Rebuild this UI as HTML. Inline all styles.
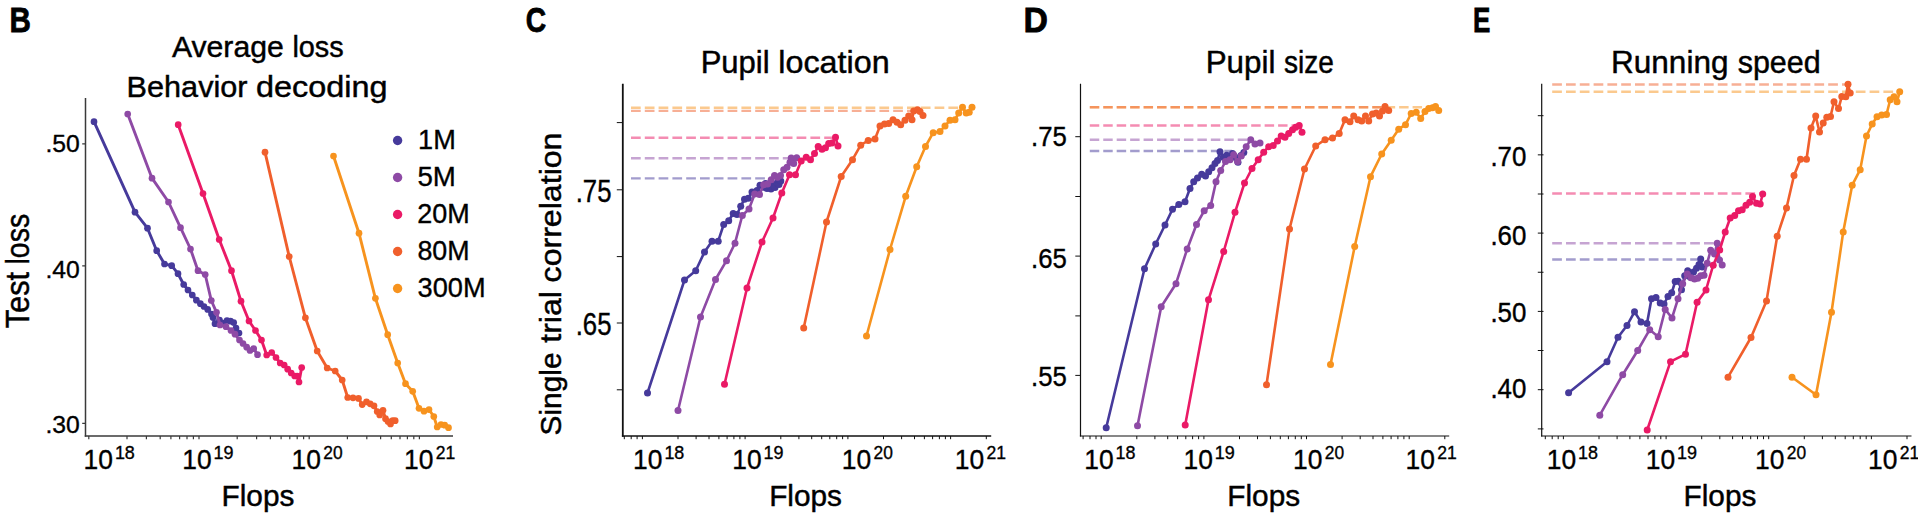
<!DOCTYPE html>
<html><head><meta charset="utf-8"><title>Figure</title>
<style>html,body{margin:0;padding:0;background:#fff}svg{display:block}</style></head><body>
<svg width="1918" height="515" viewBox="0 0 1918 515">
<rect width="1918" height="515" fill="#fff"/>
<text x="9.43" y="32" font-size="35.9" font-family="'Liberation Sans', sans-serif" font-weight="bold" fill="#000" stroke="#000" stroke-width="0.8" textLength="21.37" lengthAdjust="spacingAndGlyphs">B</text>
<text x="525.82" y="32" font-size="35.9" font-family="'Liberation Sans', sans-serif" font-weight="bold" fill="#000" stroke="#000" stroke-width="0.8" textLength="20.40" lengthAdjust="spacingAndGlyphs">C</text>
<text x="1023.45" y="32" font-size="35.9" font-family="'Liberation Sans', sans-serif" font-weight="bold" fill="#000" stroke="#000" stroke-width="0.8" textLength="24.46" lengthAdjust="spacingAndGlyphs">D</text>
<text x="1473.06" y="32" font-size="35.9" font-family="'Liberation Sans', sans-serif" font-weight="bold" fill="#000" stroke="#000" stroke-width="0.8" textLength="17.35" lengthAdjust="spacingAndGlyphs">E</text>
<text x="171.88" y="57.1" font-size="30.4" font-family="'Liberation Sans', sans-serif" fill="#000" stroke="#000" stroke-width="0.45" textLength="111.89" lengthAdjust="spacingAndGlyphs">Average</text>
<text x="292.40" y="57.1" font-size="30.4" font-family="'Liberation Sans', sans-serif" fill="#000" stroke="#000" stroke-width="0.45" textLength="51.34" lengthAdjust="spacingAndGlyphs">loss</text>
<text x="126.62" y="96.9" font-size="30.4" font-family="'Liberation Sans', sans-serif" fill="#000" stroke="#000" stroke-width="0.45" textLength="120.90" lengthAdjust="spacingAndGlyphs">Behavior</text>
<text x="255.98" y="96.9" font-size="30.4" font-family="'Liberation Sans', sans-serif" fill="#000" stroke="#000" stroke-width="0.45" textLength="131.43" lengthAdjust="spacingAndGlyphs">decoding</text>
<text x="700.69" y="72.95" font-size="31" font-family="'Liberation Sans', sans-serif" fill="#000" stroke="#000" stroke-width="0.45" textLength="68.96" lengthAdjust="spacingAndGlyphs">Pupil</text>
<text x="778.38" y="72.95" font-size="31" font-family="'Liberation Sans', sans-serif" fill="#000" stroke="#000" stroke-width="0.45" textLength="111.22" lengthAdjust="spacingAndGlyphs">location</text>
<text x="1205.67" y="72.95" font-size="31" font-family="'Liberation Sans', sans-serif" fill="#000" stroke="#000" stroke-width="0.45" textLength="69.71" lengthAdjust="spacingAndGlyphs">Pupil</text>
<text x="1283.97" y="72.95" font-size="31" font-family="'Liberation Sans', sans-serif" fill="#000" stroke="#000" stroke-width="0.45" textLength="49.91" lengthAdjust="spacingAndGlyphs">size</text>
<text x="1611.05" y="72.8" font-size="31" font-family="'Liberation Sans', sans-serif" fill="#000" stroke="#000" stroke-width="0.45" textLength="117.40" lengthAdjust="spacingAndGlyphs">Running</text>
<text x="1737.71" y="72.8" font-size="31" font-family="'Liberation Sans', sans-serif" fill="#000" stroke="#000" stroke-width="0.45" textLength="82.97" lengthAdjust="spacingAndGlyphs">speed</text>
<text x="221.49" y="505.6" font-size="30.4" font-family="'Liberation Sans', sans-serif" fill="#000" stroke="#000" stroke-width="0.45" textLength="72.88" lengthAdjust="spacingAndGlyphs">Flops</text>
<text x="769.14" y="505.6" font-size="30.4" font-family="'Liberation Sans', sans-serif" fill="#000" stroke="#000" stroke-width="0.45" textLength="72.88" lengthAdjust="spacingAndGlyphs">Flops</text>
<text x="1227.24" y="505.6" font-size="30.4" font-family="'Liberation Sans', sans-serif" fill="#000" stroke="#000" stroke-width="0.45" textLength="72.88" lengthAdjust="spacingAndGlyphs">Flops</text>
<text x="1683.49" y="505.6" font-size="30.4" font-family="'Liberation Sans', sans-serif" fill="#000" stroke="#000" stroke-width="0.45" textLength="72.88" lengthAdjust="spacingAndGlyphs">Flops</text>
<text x="28.9" y="328.24" font-size="32.8" font-family="'Liberation Sans', sans-serif" fill="#000" stroke="#000" stroke-width="0.45" textLength="56.25" lengthAdjust="spacingAndGlyphs" transform="rotate(-90 28.9 328.24)">Test</text>
<text x="28.9" y="264.48" font-size="32.8" font-family="'Liberation Sans', sans-serif" fill="#000" stroke="#000" stroke-width="0.45" textLength="50.70" lengthAdjust="spacingAndGlyphs" transform="rotate(-90 28.9 264.48)">loss</text>
<text x="561.2" y="435.47" font-size="29.8" font-family="'Liberation Sans', sans-serif" fill="#000" stroke="#000" stroke-width="0.45" textLength="83.02" lengthAdjust="spacingAndGlyphs" transform="rotate(-90 561.2 435.47)">Single</text>
<text x="561.2" y="342.70" font-size="29.8" font-family="'Liberation Sans', sans-serif" fill="#000" stroke="#000" stroke-width="0.45" textLength="51.52" lengthAdjust="spacingAndGlyphs" transform="rotate(-90 561.2 342.70)">trial</text>
<text x="561.2" y="282.41" font-size="29.8" font-family="'Liberation Sans', sans-serif" fill="#000" stroke="#000" stroke-width="0.45" textLength="149.90" lengthAdjust="spacingAndGlyphs" transform="rotate(-90 561.2 282.41)">correlation</text>
<path d="M85.5 98V436.75" fill="none" stroke="#3a3a3a" stroke-width="1.5"/>
<path d="M84.75 436H453" fill="none" stroke="#3a3a3a" stroke-width="1.5"/>
<path d="M88.8 436v3.2M127.0 436v3.2M146.4 436v3.2M160.2 436v3.2M170.9 436v3.2M179.6 436v3.2M187.0 436v3.2M193.4 436v3.2M199.0 436v3.2M237.2 436v3.2M256.6 436v3.2M270.4 436v3.2M281.1 436v3.2M289.8 436v3.2M297.2 436v3.2M303.6 436v3.2M309.2 436v3.2M347.4 436v3.2M366.8 436v3.2M380.6 436v3.2M391.3 436v3.2M400.0 436v3.2M407.4 436v3.2M413.8 436v3.2M419.4 436v3.2M85.5 143.9h-3.3M85.5 265.9h-3.3M85.5 423.3h-3.3" fill="none" stroke="#3a3a3a" stroke-width="1.2"/>
<text x="45.40" y="152.1" font-size="24.6" font-family="'Liberation Sans', sans-serif" fill="#000" stroke="#000" stroke-width="0.35" textLength="34.37" lengthAdjust="spacingAndGlyphs">.50</text>
<text x="45.40" y="277.6" font-size="24.6" font-family="'Liberation Sans', sans-serif" fill="#000" stroke="#000" stroke-width="0.35" textLength="34.37" lengthAdjust="spacingAndGlyphs">.40</text>
<text x="45.40" y="432.7" font-size="24.6" font-family="'Liberation Sans', sans-serif" fill="#000" stroke="#000" stroke-width="0.35" textLength="34.37" lengthAdjust="spacingAndGlyphs">.30</text>
<text x="83.54" y="468.9" font-size="26.8" font-family="'Liberation Sans', sans-serif" fill="#000" stroke="#000" stroke-width="0.35" textLength="29.39" lengthAdjust="spacingAndGlyphs">10</text>
<text x="114.88" y="458.7" font-size="18.6" font-family="'Liberation Sans', sans-serif" fill="#000" stroke="#000" stroke-width="0.35" textLength="19.93" lengthAdjust="spacingAndGlyphs">18</text>
<text x="182.24" y="468.9" font-size="26.8" font-family="'Liberation Sans', sans-serif" fill="#000" stroke="#000" stroke-width="0.35" textLength="29.39" lengthAdjust="spacingAndGlyphs">10</text>
<text x="213.57" y="458.7" font-size="18.6" font-family="'Liberation Sans', sans-serif" fill="#000" stroke="#000" stroke-width="0.35" textLength="20.03" lengthAdjust="spacingAndGlyphs">19</text>
<text x="291.54" y="468.9" font-size="26.8" font-family="'Liberation Sans', sans-serif" fill="#000" stroke="#000" stroke-width="0.35" textLength="29.39" lengthAdjust="spacingAndGlyphs">10</text>
<text x="323.36" y="458.7" font-size="18.6" font-family="'Liberation Sans', sans-serif" fill="#000" stroke="#000" stroke-width="0.35" textLength="19.35" lengthAdjust="spacingAndGlyphs">20</text>
<text x="404.04" y="468.9" font-size="26.8" font-family="'Liberation Sans', sans-serif" fill="#000" stroke="#000" stroke-width="0.35" textLength="29.39" lengthAdjust="spacingAndGlyphs">10</text>
<text x="435.85" y="458.7" font-size="18.6" font-family="'Liberation Sans', sans-serif" fill="#000" stroke="#000" stroke-width="0.35" textLength="19.54" lengthAdjust="spacingAndGlyphs">21</text>
<polyline fill="none" stroke="#463A9B" stroke-width="2.9" stroke-linejoin="round" points="94,121.7 135,212.2 147.5,228.2 156.7,250.7 164.5,264 171.7,265.7 178,273.7 183.7,284.5 188,290 192.3,295 196.4,300.2 200.4,303.7 204,306.5 207.7,309.4 211.5,314 213,317.5 215,323.7 219.5,320 223,323 227,320.5 230.5,321.2 233.7,322.5 236,328 239,333"/>
<g fill="#463A9B"><circle cx="94" cy="121.7" r="3.35"/><circle cx="135" cy="212.2" r="3.35"/><circle cx="147.5" cy="228.2" r="3.35"/><circle cx="156.7" cy="250.7" r="3.35"/><circle cx="164.5" cy="264" r="3.35"/><circle cx="171.7" cy="265.7" r="3.35"/><circle cx="178" cy="273.7" r="3.35"/><circle cx="183.7" cy="284.5" r="3.35"/><circle cx="188" cy="290" r="3.35"/><circle cx="192.3" cy="295" r="3.35"/><circle cx="196.4" cy="300.2" r="3.35"/><circle cx="200.4" cy="303.7" r="3.35"/><circle cx="204" cy="306.5" r="3.35"/><circle cx="207.7" cy="309.4" r="3.35"/><circle cx="211.5" cy="314" r="3.35"/><circle cx="213" cy="317.5" r="3.35"/><circle cx="215" cy="323.7" r="3.35"/><circle cx="219.5" cy="320" r="3.35"/><circle cx="223" cy="323" r="3.35"/><circle cx="227" cy="320.5" r="3.35"/><circle cx="230.5" cy="321.2" r="3.35"/><circle cx="233.7" cy="322.5" r="3.35"/><circle cx="236" cy="328" r="3.35"/><circle cx="239" cy="333" r="3.35"/></g>
<polyline fill="none" stroke="#8E4AA5" stroke-width="2.9" stroke-linejoin="round" points="127.7,114 152,178.2 168.5,202 180.5,227.7 190.5,249 198,270.7 205.2,274.5 211.3,300.5 216.5,312.3 220,325 226,326.7 231,330.5 235,334.2 239.5,340 243,343.5 246.7,347.2 250,350.5 253.7,348.7 257.5,354.7"/>
<g fill="#8E4AA5"><circle cx="127.7" cy="114" r="3.35"/><circle cx="152" cy="178.2" r="3.35"/><circle cx="168.5" cy="202" r="3.35"/><circle cx="180.5" cy="227.7" r="3.35"/><circle cx="190.5" cy="249" r="3.35"/><circle cx="198" cy="270.7" r="3.35"/><circle cx="205.2" cy="274.5" r="3.35"/><circle cx="211.3" cy="300.5" r="3.35"/><circle cx="216.5" cy="312.3" r="3.35"/><circle cx="220" cy="325" r="3.35"/><circle cx="226" cy="326.7" r="3.35"/><circle cx="231" cy="330.5" r="3.35"/><circle cx="235" cy="334.2" r="3.35"/><circle cx="239.5" cy="340" r="3.35"/><circle cx="243" cy="343.5" r="3.35"/><circle cx="246.7" cy="347.2" r="3.35"/><circle cx="250" cy="350.5" r="3.35"/><circle cx="253.7" cy="348.7" r="3.35"/><circle cx="257.5" cy="354.7" r="3.35"/></g>
<polyline fill="none" stroke="#EA1A66" stroke-width="2.9" stroke-linejoin="round" points="178.2,124.7 203,193.5 219.2,239.5 231.5,270.7 241,301.2 249,321 255.5,330.5 261.5,340 266.7,355 271.7,352.5 276,357.5 280.2,363 284.2,365 287.7,369.2 291.2,373 294.7,376 297.2,376 299,382 301.7,367.5"/>
<g fill="#EA1A66"><circle cx="178.2" cy="124.7" r="3.35"/><circle cx="203" cy="193.5" r="3.35"/><circle cx="219.2" cy="239.5" r="3.35"/><circle cx="231.5" cy="270.7" r="3.35"/><circle cx="241" cy="301.2" r="3.35"/><circle cx="249" cy="321" r="3.35"/><circle cx="255.5" cy="330.5" r="3.35"/><circle cx="261.5" cy="340" r="3.35"/><circle cx="266.7" cy="355" r="3.35"/><circle cx="271.7" cy="352.5" r="3.35"/><circle cx="276" cy="357.5" r="3.35"/><circle cx="280.2" cy="363" r="3.35"/><circle cx="284.2" cy="365" r="3.35"/><circle cx="287.7" cy="369.2" r="3.35"/><circle cx="291.2" cy="373" r="3.35"/><circle cx="294.7" cy="376" r="3.35"/><circle cx="297.2" cy="376" r="3.35"/><circle cx="299" cy="382" r="3.35"/><circle cx="301.7" cy="367.5" r="3.35"/></g>
<polyline fill="none" stroke="#F05F2C" stroke-width="2.9" stroke-linejoin="round" points="265,152.2 289.2,256.5 305.4,317.8 317.2,351 327.2,368 335.2,371 342.2,380 347.7,397.5 353,397.8 358.5,398.4 362.2,404.6 366.5,401.8 370.2,403.8 374,405.8 377.2,411.5 379.7,415 383,410.3 385.5,418.7 388,421.5 390.5,424 392.7,420.7 395.2,420.7"/>
<g fill="#F05F2C"><circle cx="265" cy="152.2" r="3.35"/><circle cx="289.2" cy="256.5" r="3.35"/><circle cx="305.4" cy="317.8" r="3.35"/><circle cx="317.2" cy="351" r="3.35"/><circle cx="327.2" cy="368" r="3.35"/><circle cx="335.2" cy="371" r="3.35"/><circle cx="342.2" cy="380" r="3.35"/><circle cx="347.7" cy="397.5" r="3.35"/><circle cx="353" cy="397.8" r="3.35"/><circle cx="358.5" cy="398.4" r="3.35"/><circle cx="362.2" cy="404.6" r="3.35"/><circle cx="366.5" cy="401.8" r="3.35"/><circle cx="370.2" cy="403.8" r="3.35"/><circle cx="374" cy="405.8" r="3.35"/><circle cx="377.2" cy="411.5" r="3.35"/><circle cx="379.7" cy="415" r="3.35"/><circle cx="383" cy="410.3" r="3.35"/><circle cx="385.5" cy="418.7" r="3.35"/><circle cx="388" cy="421.5" r="3.35"/><circle cx="390.5" cy="424" r="3.35"/><circle cx="392.7" cy="420.7" r="3.35"/><circle cx="395.2" cy="420.7" r="3.35"/></g>
<polyline fill="none" stroke="#F7931E" stroke-width="2.9" stroke-linejoin="round" points="333.5,156 359,233.2 375.4,298.3 387.7,334.7 397.7,363 405.5,383.7 412.7,391.3 419,408.3 424,411.2 429,409.6 433.8,416.5 437.2,427 441,424.5 444.7,425.2 448.5,427.7"/>
<g fill="#F7931E"><circle cx="333.5" cy="156" r="3.35"/><circle cx="359" cy="233.2" r="3.35"/><circle cx="375.4" cy="298.3" r="3.35"/><circle cx="387.7" cy="334.7" r="3.35"/><circle cx="397.7" cy="363" r="3.35"/><circle cx="405.5" cy="383.7" r="3.35"/><circle cx="412.7" cy="391.3" r="3.35"/><circle cx="419" cy="408.3" r="3.35"/><circle cx="424" cy="411.2" r="3.35"/><circle cx="429" cy="409.6" r="3.35"/><circle cx="433.8" cy="416.5" r="3.35"/><circle cx="437.2" cy="427" r="3.35"/><circle cx="441" cy="424.5" r="3.35"/><circle cx="444.7" cy="425.2" r="3.35"/><circle cx="448.5" cy="427.7" r="3.35"/></g>
<circle cx="397.6" cy="140.5" r="4.7" fill="#463A9B"/>
<text x="418.09" y="148.7" font-size="27.2" font-family="'Liberation Sans', sans-serif" fill="#000" stroke="#000" stroke-width="0.35" textLength="37.70" lengthAdjust="spacingAndGlyphs">1M</text>
<circle cx="397.6" cy="177.5" r="4.7" fill="#8E4AA5"/>
<text x="417.42" y="185.7" font-size="27.2" font-family="'Liberation Sans', sans-serif" fill="#000" stroke="#000" stroke-width="0.35" textLength="38.41" lengthAdjust="spacingAndGlyphs">5M</text>
<circle cx="397.6" cy="214.5" r="4.7" fill="#EA1A66"/>
<text x="417.18" y="222.7" font-size="27.2" font-family="'Liberation Sans', sans-serif" fill="#000" stroke="#000" stroke-width="0.35" textLength="52.40" lengthAdjust="spacingAndGlyphs">20M</text>
<circle cx="397.6" cy="251.5" r="4.7" fill="#F05F2C"/>
<text x="417.45" y="259.7" font-size="27.2" font-family="'Liberation Sans', sans-serif" fill="#000" stroke="#000" stroke-width="0.35" textLength="52.11" lengthAdjust="spacingAndGlyphs">80M</text>
<circle cx="397.6" cy="288.5" r="4.7" fill="#F7931E"/>
<text x="417.57" y="296.7" font-size="27.2" font-family="'Liberation Sans', sans-serif" fill="#000" stroke="#000" stroke-width="0.35" textLength="68.02" lengthAdjust="spacingAndGlyphs">300M</text>
<path d="M622.8 83.7V436.65" fill="none" stroke="#111" stroke-width="1.8"/>
<path d="M621.9 436H991.2" fill="none" stroke="#111" stroke-width="1.3"/>
<path d="M624.3 436v3.2M631.2 436v3.2M637.1 436v3.2M642.4 436v3.2M678.0 436v3.2M696.1 436v3.2M709.0 436v3.2M718.9 436v3.2M727.1 436v3.2M733.9 436v3.2M739.9 436v3.2M745.1 436v3.2M780.8 436v3.2M798.9 436v3.2M811.7 436v3.2M821.7 436v3.2M829.8 436v3.2M836.7 436v3.2M842.6 436v3.2M847.9 436v3.2M883.5 436v3.2M901.6 436v3.2M914.5 436v3.2M924.4 436v3.2M932.6 436v3.2M939.4 436v3.2M945.4 436v3.2M950.6 436v3.2M986.3 436v3.2M622.8 122.6h-6M622.8 189.8h-6M622.8 256.6h-6M622.8 323.0h-6M622.8 389.8h-6" fill="none" stroke="#111" stroke-width="1.0"/>
<text x="575.73" y="202.3" font-size="31.3" font-family="'Liberation Sans', sans-serif" fill="#000" stroke="#000" stroke-width="0.4" textLength="35.78" lengthAdjust="spacingAndGlyphs">.75</text>
<text x="575.73" y="334.6" font-size="31.3" font-family="'Liberation Sans', sans-serif" fill="#000" stroke="#000" stroke-width="0.4" textLength="35.78" lengthAdjust="spacingAndGlyphs">.65</text>
<text x="633.04" y="468.9" font-size="26.8" font-family="'Liberation Sans', sans-serif" fill="#000" stroke="#000" stroke-width="0.35" textLength="29.39" lengthAdjust="spacingAndGlyphs">10</text>
<text x="664.38" y="458.7" font-size="18.6" font-family="'Liberation Sans', sans-serif" fill="#000" stroke="#000" stroke-width="0.35" textLength="19.93" lengthAdjust="spacingAndGlyphs">18</text>
<text x="732.24" y="468.9" font-size="26.8" font-family="'Liberation Sans', sans-serif" fill="#000" stroke="#000" stroke-width="0.35" textLength="29.39" lengthAdjust="spacingAndGlyphs">10</text>
<text x="763.57" y="458.7" font-size="18.6" font-family="'Liberation Sans', sans-serif" fill="#000" stroke="#000" stroke-width="0.35" textLength="20.03" lengthAdjust="spacingAndGlyphs">19</text>
<text x="841.74" y="468.9" font-size="26.8" font-family="'Liberation Sans', sans-serif" fill="#000" stroke="#000" stroke-width="0.35" textLength="29.39" lengthAdjust="spacingAndGlyphs">10</text>
<text x="873.56" y="458.7" font-size="18.6" font-family="'Liberation Sans', sans-serif" fill="#000" stroke="#000" stroke-width="0.35" textLength="19.35" lengthAdjust="spacingAndGlyphs">20</text>
<text x="954.74" y="468.9" font-size="26.8" font-family="'Liberation Sans', sans-serif" fill="#000" stroke="#000" stroke-width="0.35" textLength="29.39" lengthAdjust="spacingAndGlyphs">10</text>
<text x="986.55" y="458.7" font-size="18.6" font-family="'Liberation Sans', sans-serif" fill="#000" stroke="#000" stroke-width="0.35" textLength="19.54" lengthAdjust="spacingAndGlyphs">21</text>
<path d="M631 107.7H962" stroke="#F7931E" stroke-opacity="0.5" stroke-width="2.4" stroke-dasharray="9.7 4.1" fill="none"/>
<path d="M631 110.85H912" stroke="#F05F2C" stroke-opacity="0.5" stroke-width="2.4" stroke-dasharray="9.7 4.1" fill="none"/>
<path d="M631 137.7H835" stroke="#EA1A66" stroke-opacity="0.5" stroke-width="2.4" stroke-dasharray="9.7 4.1" fill="none"/>
<path d="M631 158.2H791" stroke="#8E4AA5" stroke-opacity="0.5" stroke-width="2.4" stroke-dasharray="9.7 4.1" fill="none"/>
<path d="M631 178.4H772" stroke="#463A9B" stroke-opacity="0.5" stroke-width="2.4" stroke-dasharray="9.7 4.1" fill="none"/>
<polyline fill="none" stroke="#463A9B" stroke-width="2.6" stroke-linejoin="round" points="647.5,393 684.5,280 695.7,270.7 704.5,252 712,241.2 718.2,241.2 723.7,224.5 728.7,220.7 733.2,213.5 737,214.5 740.7,206.2 744.5,199.3 748.3,198.3 752,192 757,190.5 760,185.2 763.7,187.2 765.5,183.5 767,188.5 769.5,184.5 771,189 773,185 775,187.5 777,183 779,184.5 780.8,181"/>
<g fill="#463A9B"><circle cx="647.5" cy="393" r="3.5"/><circle cx="684.5" cy="280" r="3.5"/><circle cx="695.7" cy="270.7" r="3.5"/><circle cx="704.5" cy="252" r="3.5"/><circle cx="712" cy="241.2" r="3.5"/><circle cx="718.2" cy="241.2" r="3.5"/><circle cx="723.7" cy="224.5" r="3.5"/><circle cx="728.7" cy="220.7" r="3.5"/><circle cx="733.2" cy="213.5" r="3.5"/><circle cx="737" cy="214.5" r="3.5"/><circle cx="740.7" cy="206.2" r="3.5"/><circle cx="744.5" cy="199.3" r="3.5"/><circle cx="748.3" cy="198.3" r="3.5"/><circle cx="752" cy="192" r="3.5"/><circle cx="757" cy="190.5" r="3.5"/><circle cx="760" cy="185.2" r="3.5"/><circle cx="763.7" cy="187.2" r="3.5"/><circle cx="765.5" cy="183.5" r="3.5"/><circle cx="767" cy="188.5" r="3.5"/><circle cx="769.5" cy="184.5" r="3.5"/><circle cx="771" cy="189" r="3.5"/><circle cx="773" cy="185" r="3.5"/><circle cx="775" cy="187.5" r="3.5"/><circle cx="777" cy="183" r="3.5"/><circle cx="779" cy="184.5" r="3.5"/><circle cx="780.8" cy="181" r="3.5"/></g>
<polyline fill="none" stroke="#8E4AA5" stroke-width="2.6" stroke-linejoin="round" points="678,410.5 700.5,317 715.5,279.5 726.5,260.7 735,243.2 742.3,215.5 749,209 754.7,194 759.5,194.6 763.7,184.7 767.5,184 771.2,179.7 774.5,175.5 777.5,177.2 780.5,175.5 783.7,169.7 787,167.2 790,162.2 791.2,158 793.7,163.5 796.7,157.7"/>
<g fill="#8E4AA5"><circle cx="678" cy="410.5" r="3.5"/><circle cx="700.5" cy="317" r="3.5"/><circle cx="715.5" cy="279.5" r="3.5"/><circle cx="726.5" cy="260.7" r="3.5"/><circle cx="735" cy="243.2" r="3.5"/><circle cx="742.3" cy="215.5" r="3.5"/><circle cx="749" cy="209" r="3.5"/><circle cx="754.7" cy="194" r="3.5"/><circle cx="759.5" cy="194.6" r="3.5"/><circle cx="763.7" cy="184.7" r="3.5"/><circle cx="767.5" cy="184" r="3.5"/><circle cx="771.2" cy="179.7" r="3.5"/><circle cx="774.5" cy="175.5" r="3.5"/><circle cx="777.5" cy="177.2" r="3.5"/><circle cx="780.5" cy="175.5" r="3.5"/><circle cx="783.7" cy="169.7" r="3.5"/><circle cx="787" cy="167.2" r="3.5"/><circle cx="790" cy="162.2" r="3.5"/><circle cx="791.2" cy="158" r="3.5"/><circle cx="793.7" cy="163.5" r="3.5"/><circle cx="796.7" cy="157.7" r="3.5"/></g>
<polyline fill="none" stroke="#EA1A66" stroke-width="2.6" stroke-linejoin="round" points="724.5,384.2 747,288 762,242 773,218 781.8,193 789.5,174.7 795.5,174.7 801.2,161 806.2,157.2 810.5,159.7 814.5,153.5 818.2,146.5 822,149.2 825.5,147.7 828.7,143.5 832,143 835.5,137.2 838,146"/>
<g fill="#EA1A66"><circle cx="724.5" cy="384.2" r="3.5"/><circle cx="747" cy="288" r="3.5"/><circle cx="762" cy="242" r="3.5"/><circle cx="773" cy="218" r="3.5"/><circle cx="781.8" cy="193" r="3.5"/><circle cx="789.5" cy="174.7" r="3.5"/><circle cx="795.5" cy="174.7" r="3.5"/><circle cx="801.2" cy="161" r="3.5"/><circle cx="806.2" cy="157.2" r="3.5"/><circle cx="810.5" cy="159.7" r="3.5"/><circle cx="814.5" cy="153.5" r="3.5"/><circle cx="818.2" cy="146.5" r="3.5"/><circle cx="822" cy="149.2" r="3.5"/><circle cx="825.5" cy="147.7" r="3.5"/><circle cx="828.7" cy="143.5" r="3.5"/><circle cx="832" cy="143" r="3.5"/><circle cx="835.5" cy="137.2" r="3.5"/><circle cx="838" cy="146" r="3.5"/></g>
<polyline fill="none" stroke="#F05F2C" stroke-width="2.6" stroke-linejoin="round" points="803.7,328 826.5,222 841.2,176.5 852.5,159.7 860.7,145.2 868.2,140.5 875,139 880,126 884.5,124 888.7,123.5 893,119.7 897,122.2 900.7,124.7 905,120.2 908.7,116 912,119.7 913.7,111 917.5,109.7 920,111.5 923,115.5"/>
<g fill="#F05F2C"><circle cx="803.7" cy="328" r="3.5"/><circle cx="826.5" cy="222" r="3.5"/><circle cx="841.2" cy="176.5" r="3.5"/><circle cx="852.5" cy="159.7" r="3.5"/><circle cx="860.7" cy="145.2" r="3.5"/><circle cx="868.2" cy="140.5" r="3.5"/><circle cx="875" cy="139" r="3.5"/><circle cx="880" cy="126" r="3.5"/><circle cx="884.5" cy="124" r="3.5"/><circle cx="888.7" cy="123.5" r="3.5"/><circle cx="893" cy="119.7" r="3.5"/><circle cx="897" cy="122.2" r="3.5"/><circle cx="900.7" cy="124.7" r="3.5"/><circle cx="905" cy="120.2" r="3.5"/><circle cx="908.7" cy="116" r="3.5"/><circle cx="912" cy="119.7" r="3.5"/><circle cx="913.7" cy="111" r="3.5"/><circle cx="917.5" cy="109.7" r="3.5"/><circle cx="920" cy="111.5" r="3.5"/><circle cx="923" cy="115.5" r="3.5"/></g>
<polyline fill="none" stroke="#F7931E" stroke-width="2.6" stroke-linejoin="round" points="866.5,336 890,249.5 905.7,196.3 916.7,166.7 925.5,146.5 933.2,132.7 940,131.5 945,126 950,120.2 955,119.7 958.7,113 962.5,107.2 966.2,113 969.2,112.2 972,107.2"/>
<g fill="#F7931E"><circle cx="866.5" cy="336" r="3.5"/><circle cx="890" cy="249.5" r="3.5"/><circle cx="905.7" cy="196.3" r="3.5"/><circle cx="916.7" cy="166.7" r="3.5"/><circle cx="925.5" cy="146.5" r="3.5"/><circle cx="933.2" cy="132.7" r="3.5"/><circle cx="940" cy="131.5" r="3.5"/><circle cx="945" cy="126" r="3.5"/><circle cx="950" cy="120.2" r="3.5"/><circle cx="955" cy="119.7" r="3.5"/><circle cx="958.7" cy="113" r="3.5"/><circle cx="962.5" cy="107.2" r="3.5"/><circle cx="966.2" cy="113" r="3.5"/><circle cx="969.2" cy="112.2" r="3.5"/><circle cx="972" cy="107.2" r="3.5"/></g>
<path d="M1080.5 83.7V436.6" fill="none" stroke="#111" stroke-width="1.2"/>
<path d="M1079.9 436H1449.2" fill="none" stroke="#111" stroke-width="1.2"/>
<path d="M1083.1 436v3.2M1090.0 436v3.2M1096.0 436v3.2M1101.2 436v3.2M1136.8 436v3.2M1154.9 436v3.2M1167.7 436v3.2M1177.6 436v3.2M1185.8 436v3.2M1192.6 436v3.2M1198.6 436v3.2M1203.9 436v3.2M1239.5 436v3.2M1257.5 436v3.2M1270.4 436v3.2M1280.3 436v3.2M1288.4 436v3.2M1295.3 436v3.2M1301.3 436v3.2M1306.5 436v3.2M1342.1 436v3.2M1360.2 436v3.2M1373.0 436v3.2M1382.9 436v3.2M1391.1 436v3.2M1397.9 436v3.2M1403.9 436v3.2M1409.2 436v3.2M1444.8 436v3.2M1080.5 136.7h-5.2M1080.5 196.5h-5.2M1080.5 256.1h-5.2M1080.5 315.9h-5.2M1080.5 375.4h-5.2" fill="none" stroke="#111" stroke-width="1.0"/>
<text x="1031.03" y="145.7" font-size="27.4" font-family="'Liberation Sans', sans-serif" fill="#000" stroke="#000" stroke-width="0.4" textLength="35.78" lengthAdjust="spacingAndGlyphs">.75</text>
<text x="1031.03" y="267.7" font-size="27.4" font-family="'Liberation Sans', sans-serif" fill="#000" stroke="#000" stroke-width="0.4" textLength="35.78" lengthAdjust="spacingAndGlyphs">.65</text>
<text x="1031.03" y="386.0" font-size="27.4" font-family="'Liberation Sans', sans-serif" fill="#000" stroke="#000" stroke-width="0.4" textLength="35.78" lengthAdjust="spacingAndGlyphs">.55</text>
<text x="1084.24" y="468.9" font-size="26.8" font-family="'Liberation Sans', sans-serif" fill="#000" stroke="#000" stroke-width="0.35" textLength="29.39" lengthAdjust="spacingAndGlyphs">10</text>
<text x="1115.58" y="458.7" font-size="18.6" font-family="'Liberation Sans', sans-serif" fill="#000" stroke="#000" stroke-width="0.35" textLength="19.93" lengthAdjust="spacingAndGlyphs">18</text>
<text x="1183.54" y="468.9" font-size="26.8" font-family="'Liberation Sans', sans-serif" fill="#000" stroke="#000" stroke-width="0.35" textLength="29.39" lengthAdjust="spacingAndGlyphs">10</text>
<text x="1214.87" y="458.7" font-size="18.6" font-family="'Liberation Sans', sans-serif" fill="#000" stroke="#000" stroke-width="0.35" textLength="20.03" lengthAdjust="spacingAndGlyphs">19</text>
<text x="1293.04" y="468.9" font-size="26.8" font-family="'Liberation Sans', sans-serif" fill="#000" stroke="#000" stroke-width="0.35" textLength="29.39" lengthAdjust="spacingAndGlyphs">10</text>
<text x="1324.86" y="458.7" font-size="18.6" font-family="'Liberation Sans', sans-serif" fill="#000" stroke="#000" stroke-width="0.35" textLength="19.35" lengthAdjust="spacingAndGlyphs">20</text>
<text x="1405.54" y="468.9" font-size="26.8" font-family="'Liberation Sans', sans-serif" fill="#000" stroke="#000" stroke-width="0.35" textLength="29.39" lengthAdjust="spacingAndGlyphs">10</text>
<text x="1437.35" y="458.7" font-size="18.6" font-family="'Liberation Sans', sans-serif" fill="#000" stroke="#000" stroke-width="0.35" textLength="19.54" lengthAdjust="spacingAndGlyphs">21</text>
<path d="M1089.8 107.3H1435" stroke="#F7931E" stroke-opacity="0.5" stroke-width="2.5" stroke-dasharray="9.45 4.0" fill="none"/>
<path d="M1089.8 107.3H1385" stroke="#F05F2C" stroke-opacity="0.5" stroke-width="2.5" stroke-dasharray="9.45 4.0" fill="none"/>
<path d="M1089.8 125.5H1297" stroke="#EA1A66" stroke-opacity="0.5" stroke-width="2.5" stroke-dasharray="9.45 4.0" fill="none"/>
<path d="M1089.8 139.7H1250" stroke="#8E4AA5" stroke-opacity="0.5" stroke-width="2.5" stroke-dasharray="9.45 4.0" fill="none"/>
<path d="M1089.8 151H1232" stroke="#463A9B" stroke-opacity="0.5" stroke-width="2.5" stroke-dasharray="9.45 4.0" fill="none"/>
<polyline fill="none" stroke="#463A9B" stroke-width="2.6" stroke-linejoin="round" points="1106.2,427.7 1144.5,268.7 1155.7,244 1165,225 1172.5,209.3 1178.8,204.6 1185,201.8 1190,188.5 1193.7,181.7 1197.5,178 1201.7,174.2 1205.5,176 1208.7,171.7 1212,167.7 1215,163.5 1217.5,160.5 1220,151.7 1223.2,157.2 1226.7,155.2 1232.5,153.5 1235.5,157.5 1238,162.3 1241,155.5 1243.8,152.5"/>
<g fill="#463A9B"><circle cx="1106.2" cy="427.7" r="3.5"/><circle cx="1144.5" cy="268.7" r="3.5"/><circle cx="1155.7" cy="244" r="3.5"/><circle cx="1165" cy="225" r="3.5"/><circle cx="1172.5" cy="209.3" r="3.5"/><circle cx="1178.8" cy="204.6" r="3.5"/><circle cx="1185" cy="201.8" r="3.5"/><circle cx="1190" cy="188.5" r="3.5"/><circle cx="1193.7" cy="181.7" r="3.5"/><circle cx="1197.5" cy="178" r="3.5"/><circle cx="1201.7" cy="174.2" r="3.5"/><circle cx="1205.5" cy="176" r="3.5"/><circle cx="1208.7" cy="171.7" r="3.5"/><circle cx="1212" cy="167.7" r="3.5"/><circle cx="1215" cy="163.5" r="3.5"/><circle cx="1217.5" cy="160.5" r="3.5"/><circle cx="1220" cy="151.7" r="3.5"/><circle cx="1223.2" cy="157.2" r="3.5"/><circle cx="1226.7" cy="155.2" r="3.5"/><circle cx="1232.5" cy="153.5" r="3.5"/><circle cx="1235.5" cy="157.5" r="3.5"/><circle cx="1238" cy="162.3" r="3.5"/><circle cx="1241" cy="155.5" r="3.5"/><circle cx="1243.8" cy="152.5" r="3.5"/></g>
<polyline fill="none" stroke="#8E4AA5" stroke-width="2.6" stroke-linejoin="round" points="1137.5,425.7 1161.2,306.8 1176,283.7 1187.2,249 1196.5,224.5 1204.2,210.8 1210.7,205.6 1216,181.7 1220.7,170.5 1225.5,161.5 1230,159.7 1233.7,154.7 1237.5,161.5 1241.2,156 1246.2,146.7 1250.7,139.7 1255,144 1260,143"/>
<g fill="#8E4AA5"><circle cx="1137.5" cy="425.7" r="3.5"/><circle cx="1161.2" cy="306.8" r="3.5"/><circle cx="1176" cy="283.7" r="3.5"/><circle cx="1187.2" cy="249" r="3.5"/><circle cx="1196.5" cy="224.5" r="3.5"/><circle cx="1204.2" cy="210.8" r="3.5"/><circle cx="1210.7" cy="205.6" r="3.5"/><circle cx="1216" cy="181.7" r="3.5"/><circle cx="1220.7" cy="170.5" r="3.5"/><circle cx="1225.5" cy="161.5" r="3.5"/><circle cx="1230" cy="159.7" r="3.5"/><circle cx="1233.7" cy="154.7" r="3.5"/><circle cx="1237.5" cy="161.5" r="3.5"/><circle cx="1241.2" cy="156" r="3.5"/><circle cx="1246.2" cy="146.7" r="3.5"/><circle cx="1250.7" cy="139.7" r="3.5"/><circle cx="1255" cy="144" r="3.5"/><circle cx="1260" cy="143" r="3.5"/></g>
<polyline fill="none" stroke="#EA1A66" stroke-width="2.6" stroke-linejoin="round" points="1185.2,425 1208.5,299.8 1223.7,251.5 1235,212.3 1244.5,183 1252,168.5 1258.2,159.7 1263.7,152.2 1268.7,146.7 1273.2,145.5 1277.5,141 1281.2,136 1285,137.2 1288.7,133.5 1292.5,129.7 1295.7,127.2 1299.2,125.5 1302,132.2"/>
<g fill="#EA1A66"><circle cx="1185.2" cy="425" r="3.5"/><circle cx="1208.5" cy="299.8" r="3.5"/><circle cx="1223.7" cy="251.5" r="3.5"/><circle cx="1235" cy="212.3" r="3.5"/><circle cx="1244.5" cy="183" r="3.5"/><circle cx="1252" cy="168.5" r="3.5"/><circle cx="1258.2" cy="159.7" r="3.5"/><circle cx="1263.7" cy="152.2" r="3.5"/><circle cx="1268.7" cy="146.7" r="3.5"/><circle cx="1273.2" cy="145.5" r="3.5"/><circle cx="1277.5" cy="141" r="3.5"/><circle cx="1281.2" cy="136" r="3.5"/><circle cx="1285" cy="137.2" r="3.5"/><circle cx="1288.7" cy="133.5" r="3.5"/><circle cx="1292.5" cy="129.7" r="3.5"/><circle cx="1295.7" cy="127.2" r="3.5"/><circle cx="1299.2" cy="125.5" r="3.5"/><circle cx="1302" cy="132.2" r="3.5"/></g>
<polyline fill="none" stroke="#F05F2C" stroke-width="2.6" stroke-linejoin="round" points="1266.5,384.7 1289.5,229 1304.5,169 1315.7,146 1325,139.7 1332.5,138 1339.2,133.5 1345,119.7 1350,121.7 1353.7,116 1358,119.7 1361.7,121 1365.5,116 1368.7,121 1372.5,114 1376.2,113 1379.5,116 1382.5,111 1385,106.5 1388.7,110.5"/>
<g fill="#F05F2C"><circle cx="1266.5" cy="384.7" r="3.5"/><circle cx="1289.5" cy="229" r="3.5"/><circle cx="1304.5" cy="169" r="3.5"/><circle cx="1315.7" cy="146" r="3.5"/><circle cx="1325" cy="139.7" r="3.5"/><circle cx="1332.5" cy="138" r="3.5"/><circle cx="1339.2" cy="133.5" r="3.5"/><circle cx="1345" cy="119.7" r="3.5"/><circle cx="1350" cy="121.7" r="3.5"/><circle cx="1353.7" cy="116" r="3.5"/><circle cx="1358" cy="119.7" r="3.5"/><circle cx="1361.7" cy="121" r="3.5"/><circle cx="1365.5" cy="116" r="3.5"/><circle cx="1368.7" cy="121" r="3.5"/><circle cx="1372.5" cy="114" r="3.5"/><circle cx="1376.2" cy="113" r="3.5"/><circle cx="1379.5" cy="116" r="3.5"/><circle cx="1382.5" cy="111" r="3.5"/><circle cx="1385" cy="106.5" r="3.5"/><circle cx="1388.7" cy="110.5" r="3.5"/></g>
<polyline fill="none" stroke="#F7931E" stroke-width="2.6" stroke-linejoin="round" points="1330.5,364.5 1354.7,246.5 1370.5,176.7 1381.7,154 1391.2,140.2 1398.7,129.2 1405.5,124.7 1411.2,113.5 1416.2,112.2 1420.7,118.5 1425,111.5 1428.7,108.5 1432.5,107.7 1435.5,106.5 1438.7,110.5"/>
<g fill="#F7931E"><circle cx="1330.5" cy="364.5" r="3.5"/><circle cx="1354.7" cy="246.5" r="3.5"/><circle cx="1370.5" cy="176.7" r="3.5"/><circle cx="1381.7" cy="154" r="3.5"/><circle cx="1391.2" cy="140.2" r="3.5"/><circle cx="1398.7" cy="129.2" r="3.5"/><circle cx="1405.5" cy="124.7" r="3.5"/><circle cx="1411.2" cy="113.5" r="3.5"/><circle cx="1416.2" cy="112.2" r="3.5"/><circle cx="1420.7" cy="118.5" r="3.5"/><circle cx="1425" cy="111.5" r="3.5"/><circle cx="1428.7" cy="108.5" r="3.5"/><circle cx="1432.5" cy="107.7" r="3.5"/><circle cx="1435.5" cy="106.5" r="3.5"/><circle cx="1438.7" cy="110.5" r="3.5"/></g>
<path d="M1541.7 83.7V436.6" fill="none" stroke="#111" stroke-width="1.2"/>
<path d="M1541.1000000000001 436H1911.5" fill="none" stroke="#111" stroke-width="1.2"/>
<path d="M1545.3 436v3.2M1552.2 436v3.2M1558.2 436v3.2M1563.4 436v3.2M1599.0 436v3.2M1617.1 436v3.2M1629.9 436v3.2M1639.9 436v3.2M1648.0 436v3.2M1654.9 436v3.2M1660.8 436v3.2M1666.1 436v3.2M1701.7 436v3.2M1719.8 436v3.2M1732.6 436v3.2M1742.5 436v3.2M1750.7 436v3.2M1757.5 436v3.2M1763.5 436v3.2M1768.7 436v3.2M1804.3 436v3.2M1822.4 436v3.2M1835.3 436v3.2M1845.2 436v3.2M1853.3 436v3.2M1860.2 436v3.2M1866.2 436v3.2M1871.4 436v3.2M1907.0 436v3.2M1543.5 115.7h-5.7M1543.5 154.85h-5.7M1543.5 194.0h-5.7M1543.5 233.1h-5.7M1543.5 272.25h-5.7M1543.5 311.4h-5.7M1543.5 350.5h-5.7M1543.5 389.7h-5.7M1543.5 428.9h-5.7" fill="none" stroke="#111" stroke-width="1.0"/>
<text x="1490.42" y="166.0" font-size="27.1" font-family="'Liberation Sans', sans-serif" fill="#000" stroke="#000" stroke-width="0.4" textLength="35.96" lengthAdjust="spacingAndGlyphs">.70</text>
<text x="1490.42" y="244.5" font-size="27.1" font-family="'Liberation Sans', sans-serif" fill="#000" stroke="#000" stroke-width="0.4" textLength="35.96" lengthAdjust="spacingAndGlyphs">.60</text>
<text x="1490.42" y="321.6" font-size="27.1" font-family="'Liberation Sans', sans-serif" fill="#000" stroke="#000" stroke-width="0.4" textLength="35.96" lengthAdjust="spacingAndGlyphs">.50</text>
<text x="1490.42" y="398.0" font-size="27.1" font-family="'Liberation Sans', sans-serif" fill="#000" stroke="#000" stroke-width="0.4" textLength="35.96" lengthAdjust="spacingAndGlyphs">.40</text>
<text x="1546.74" y="468.9" font-size="26.8" font-family="'Liberation Sans', sans-serif" fill="#000" stroke="#000" stroke-width="0.35" textLength="29.39" lengthAdjust="spacingAndGlyphs">10</text>
<text x="1578.08" y="458.7" font-size="18.6" font-family="'Liberation Sans', sans-serif" fill="#000" stroke="#000" stroke-width="0.35" textLength="19.93" lengthAdjust="spacingAndGlyphs">18</text>
<text x="1645.74" y="468.9" font-size="26.8" font-family="'Liberation Sans', sans-serif" fill="#000" stroke="#000" stroke-width="0.35" textLength="29.39" lengthAdjust="spacingAndGlyphs">10</text>
<text x="1677.07" y="458.7" font-size="18.6" font-family="'Liberation Sans', sans-serif" fill="#000" stroke="#000" stroke-width="0.35" textLength="20.03" lengthAdjust="spacingAndGlyphs">19</text>
<text x="1755.04" y="468.9" font-size="26.8" font-family="'Liberation Sans', sans-serif" fill="#000" stroke="#000" stroke-width="0.35" textLength="29.39" lengthAdjust="spacingAndGlyphs">10</text>
<text x="1786.86" y="458.7" font-size="18.6" font-family="'Liberation Sans', sans-serif" fill="#000" stroke="#000" stroke-width="0.35" textLength="19.35" lengthAdjust="spacingAndGlyphs">20</text>
<text x="1868.04" y="468.9" font-size="26.8" font-family="'Liberation Sans', sans-serif" fill="#000" stroke="#000" stroke-width="0.35" textLength="29.39" lengthAdjust="spacingAndGlyphs">10</text>
<text x="1899.85" y="458.7" font-size="18.6" font-family="'Liberation Sans', sans-serif" fill="#000" stroke="#000" stroke-width="0.35" textLength="19.54" lengthAdjust="spacingAndGlyphs">21</text>
<path d="M1552.2 84.5H1847" stroke="#F05F2C" stroke-opacity="0.5" stroke-width="2.5" stroke-dasharray="9.7 4.1" fill="none"/>
<path d="M1552.2 91.7H1899" stroke="#F7931E" stroke-opacity="0.5" stroke-width="2.5" stroke-dasharray="9.7 4.1" fill="none"/>
<path d="M1552.2 193.5H1762" stroke="#EA1A66" stroke-opacity="0.5" stroke-width="2.5" stroke-dasharray="9.7 4.1" fill="none"/>
<path d="M1552.2 243.2H1716.5" stroke="#8E4AA5" stroke-opacity="0.5" stroke-width="2.5" stroke-dasharray="9.7 4.1" fill="none"/>
<path d="M1552.2 259.5H1700" stroke="#463A9B" stroke-opacity="0.5" stroke-width="2.5" stroke-dasharray="9.7 4.1" fill="none"/>
<polyline fill="none" stroke="#463A9B" stroke-width="2.6" stroke-linejoin="round" points="1568.6,392.8 1607,361.7 1618,337.2 1627,325.5 1634.5,311.8 1641,322 1647,323.5 1651.5,298.8 1656,297.6 1660.2,303 1664,304 1668,296.5 1671.7,292.8 1675.2,281.5 1678.2,281.2 1681.5,289.7 1684.7,275.7 1687.7,270.7 1690.2,277 1693.5,272 1696.5,268.2 1699,264.5 1700.7,259 1702.2,267"/>
<g fill="#463A9B"><circle cx="1568.6" cy="392.8" r="3.5"/><circle cx="1607" cy="361.7" r="3.5"/><circle cx="1618" cy="337.2" r="3.5"/><circle cx="1627" cy="325.5" r="3.5"/><circle cx="1634.5" cy="311.8" r="3.5"/><circle cx="1641" cy="322" r="3.5"/><circle cx="1647" cy="323.5" r="3.5"/><circle cx="1651.5" cy="298.8" r="3.5"/><circle cx="1656" cy="297.6" r="3.5"/><circle cx="1660.2" cy="303" r="3.5"/><circle cx="1664" cy="304" r="3.5"/><circle cx="1668" cy="296.5" r="3.5"/><circle cx="1671.7" cy="292.8" r="3.5"/><circle cx="1675.2" cy="281.5" r="3.5"/><circle cx="1678.2" cy="281.2" r="3.5"/><circle cx="1681.5" cy="289.7" r="3.5"/><circle cx="1684.7" cy="275.7" r="3.5"/><circle cx="1687.7" cy="270.7" r="3.5"/><circle cx="1690.2" cy="277" r="3.5"/><circle cx="1693.5" cy="272" r="3.5"/><circle cx="1696.5" cy="268.2" r="3.5"/><circle cx="1699" cy="264.5" r="3.5"/><circle cx="1700.7" cy="259" r="3.5"/><circle cx="1702.2" cy="267" r="3.5"/></g>
<polyline fill="none" stroke="#8E4AA5" stroke-width="2.6" stroke-linejoin="round" points="1599.8,415.2 1622.7,374.7 1637.7,350.5 1649.7,329.7 1658.2,336.7 1665.2,309.4 1672,318 1678,298.8 1682.7,283.7 1687.2,274 1691,277.7 1694.5,279 1697.7,278.2 1700.7,275.7 1704,275.2 1707.2,263.2 1710.7,250.2 1714.5,254 1717.2,243.2 1719.5,260 1722.2,265"/>
<g fill="#8E4AA5"><circle cx="1599.8" cy="415.2" r="3.5"/><circle cx="1622.7" cy="374.7" r="3.5"/><circle cx="1637.7" cy="350.5" r="3.5"/><circle cx="1649.7" cy="329.7" r="3.5"/><circle cx="1658.2" cy="336.7" r="3.5"/><circle cx="1665.2" cy="309.4" r="3.5"/><circle cx="1672" cy="318" r="3.5"/><circle cx="1678" cy="298.8" r="3.5"/><circle cx="1682.7" cy="283.7" r="3.5"/><circle cx="1687.2" cy="274" r="3.5"/><circle cx="1691" cy="277.7" r="3.5"/><circle cx="1694.5" cy="279" r="3.5"/><circle cx="1697.7" cy="278.2" r="3.5"/><circle cx="1700.7" cy="275.7" r="3.5"/><circle cx="1704" cy="275.2" r="3.5"/><circle cx="1707.2" cy="263.2" r="3.5"/><circle cx="1710.7" cy="250.2" r="3.5"/><circle cx="1714.5" cy="254" r="3.5"/><circle cx="1717.2" cy="243.2" r="3.5"/><circle cx="1719.5" cy="260" r="3.5"/><circle cx="1722.2" cy="265" r="3.5"/></g>
<polyline fill="none" stroke="#EA1A66" stroke-width="2.6" stroke-linejoin="round" points="1647.2,430 1670.5,361.7 1685.5,354.2 1697.1,302.3 1706,290 1713.2,265.2 1719.7,250 1725.2,232 1730.2,218 1734.7,215.6 1738.5,210.8 1742.2,209.8 1746,205.2 1749.7,202.3 1752.5,196.6 1756.5,203.3 1760.2,204 1762.7,194"/>
<g fill="#EA1A66"><circle cx="1647.2" cy="430" r="3.5"/><circle cx="1670.5" cy="361.7" r="3.5"/><circle cx="1685.5" cy="354.2" r="3.5"/><circle cx="1697.1" cy="302.3" r="3.5"/><circle cx="1706" cy="290" r="3.5"/><circle cx="1713.2" cy="265.2" r="3.5"/><circle cx="1719.7" cy="250" r="3.5"/><circle cx="1725.2" cy="232" r="3.5"/><circle cx="1730.2" cy="218" r="3.5"/><circle cx="1734.7" cy="215.6" r="3.5"/><circle cx="1738.5" cy="210.8" r="3.5"/><circle cx="1742.2" cy="209.8" r="3.5"/><circle cx="1746" cy="205.2" r="3.5"/><circle cx="1749.7" cy="202.3" r="3.5"/><circle cx="1752.5" cy="196.6" r="3.5"/><circle cx="1756.5" cy="203.3" r="3.5"/><circle cx="1760.2" cy="204" r="3.5"/><circle cx="1762.7" cy="194" r="3.5"/></g>
<polyline fill="none" stroke="#F05F2C" stroke-width="2.6" stroke-linejoin="round" points="1728,377.2 1751,337.5 1766.5,301.1 1777.2,236.2 1786.5,208 1794,175.5 1800.5,159.2 1806.5,159.2 1811,128 1815.7,116.1 1819.5,132 1823.2,123 1826.8,117.3 1830.5,116.5 1834,101.7 1838.5,108.6 1841.8,96.5 1845.8,96.8 1848,84.2 1850.2,93"/>
<g fill="#F05F2C"><circle cx="1728" cy="377.2" r="3.5"/><circle cx="1751" cy="337.5" r="3.5"/><circle cx="1766.5" cy="301.1" r="3.5"/><circle cx="1777.2" cy="236.2" r="3.5"/><circle cx="1786.5" cy="208" r="3.5"/><circle cx="1794" cy="175.5" r="3.5"/><circle cx="1800.5" cy="159.2" r="3.5"/><circle cx="1806.5" cy="159.2" r="3.5"/><circle cx="1811" cy="128" r="3.5"/><circle cx="1815.7" cy="116.1" r="3.5"/><circle cx="1819.5" cy="132" r="3.5"/><circle cx="1823.2" cy="123" r="3.5"/><circle cx="1826.8" cy="117.3" r="3.5"/><circle cx="1830.5" cy="116.5" r="3.5"/><circle cx="1834" cy="101.7" r="3.5"/><circle cx="1838.5" cy="108.6" r="3.5"/><circle cx="1841.8" cy="96.5" r="3.5"/><circle cx="1845.8" cy="96.8" r="3.5"/><circle cx="1848" cy="84.2" r="3.5"/><circle cx="1850.2" cy="93" r="3.5"/></g>
<polyline fill="none" stroke="#F7931E" stroke-width="2.6" stroke-linejoin="round" points="1792,377.2 1816,394.7 1831.5,312.3 1843.2,232 1852.2,185.2 1860.2,169.7 1866.5,136 1872.2,124 1877,116.8 1881.7,115 1886.5,114.5 1890.2,99.8 1894,96.7 1897,101.8 1899.7,91.7"/>
<g fill="#F7931E"><circle cx="1792" cy="377.2" r="3.5"/><circle cx="1816" cy="394.7" r="3.5"/><circle cx="1831.5" cy="312.3" r="3.5"/><circle cx="1843.2" cy="232" r="3.5"/><circle cx="1852.2" cy="185.2" r="3.5"/><circle cx="1860.2" cy="169.7" r="3.5"/><circle cx="1866.5" cy="136" r="3.5"/><circle cx="1872.2" cy="124" r="3.5"/><circle cx="1877" cy="116.8" r="3.5"/><circle cx="1881.7" cy="115" r="3.5"/><circle cx="1886.5" cy="114.5" r="3.5"/><circle cx="1890.2" cy="99.8" r="3.5"/><circle cx="1894" cy="96.7" r="3.5"/><circle cx="1897" cy="101.8" r="3.5"/><circle cx="1899.7" cy="91.7" r="3.5"/></g>
</svg></body></html>
